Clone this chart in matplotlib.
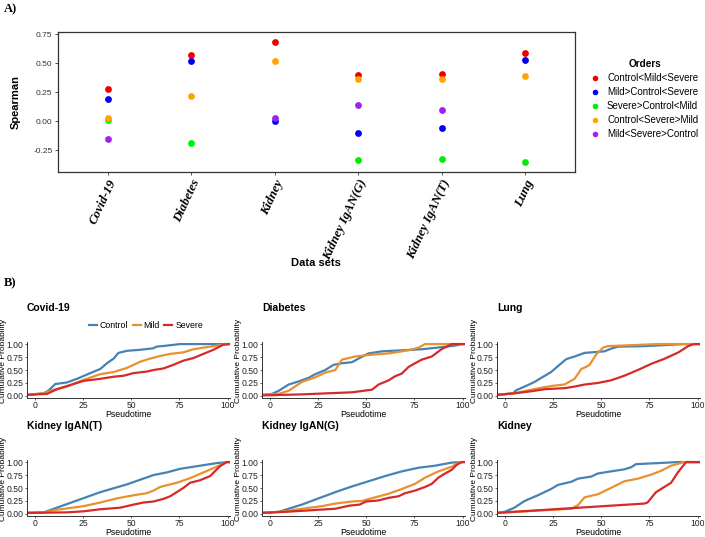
import numpy as np
import matplotlib
matplotlib.use('Agg')
from matplotlib import pyplot as plt
from matplotlib.lines import Line2D

plt.rcParams['font.family'] = ['Liberation Sans', 'DejaVu Sans']

W, H = 705, 537

# ---------------- panel A data ----------------
datasets = ['Covid-19', 'Diabetes', 'Kidney', 'Kidney IgAN(G)', 'Kidney IgAN(T)', 'Lung']
orders = ['Control<Mild<Severe', 'Mild>Control<Severe', 'Severe>Control<Mild',
          'Control<Severe>Mild', 'Mild<Severe>Control']
ctrl_mild_sev = [0.276, 0.569, 0.681, 0.400, 0.410, 0.590]
mild_ctrl_sev = [0.187, 0.517, 0.003, -0.103, -0.063, 0.530]
sev_ctrl_mild = [0.009, -0.187, np.nan, -0.336, -0.325, -0.356]
ctrl_sev_mild = [0.026, 0.216, 0.517, 0.365, 0.360, 0.390]
mild_sev_ctrl = [-0.153, np.nan, 0.026, 0.138, 0.100, np.nan]
order_colors = ['#EE0000', '#0000EE', '#00EE00', '#FFA500', '#A020F0']

# ---------------- panel B data (pseudotime, cumulative prob) ----------------
groups = ['Control', 'Mild', 'Severe']
group_colors = ['#4682B4', '#E8912E', '#D62A2A']

covid_ctrl_t = [-4, 4.7, 7, 10.7, 16.7, 21.9, 28.8, 34, 37.4, 40.9, 43.4, 47.8, 54.7, 61.6, 63, 68.4, 75.3, 101]
covid_ctrl_p = [0.02, 0.05, 0.10, 0.23, 0.26, 0.33, 0.44, 0.52, 0.63, 0.72, 0.83, 0.87, 0.89, 0.92, 0.95, 0.97, 1.0, 1.0]
covid_mild_t = [-4, 4.7, 9.8, 16.7, 25.3, 34, 40.9, 44.3, 47.8, 51.2, 54.7, 59.8, 65, 70.2, 77, 82.2, 89, 94.3, 100, 101]
covid_mild_p = [0.02, 0.05, 0.12, 0.18, 0.31, 0.42, 0.46, 0.50, 0.54, 0.60, 0.66, 0.72, 0.77, 0.81, 0.84, 0.90, 0.94, 0.97, 1.0, 1.0]
covid_sev_t = [-4, 6.4, 11.6, 16.7, 25.3, 34, 40.9, 46.2, 51.2, 58.1, 61.6, 66.7, 71.9, 77, 82.2, 87.4, 92.6, 97.8, 101]
covid_sev_p = [0.02, 0.04, 0.13, 0.19, 0.29, 0.33, 0.37, 0.39, 0.44, 0.47, 0.50, 0.53, 0.60, 0.68, 0.73, 0.81, 0.89, 0.99, 1.0]

diab_ctrl_t = [-4, 1.2, 4.7, 9.8, 15, 20.2, 23.6, 28.8, 33.1, 37.4, 42.6, 46, 51.2, 58.1, 68.4, 78.8, 89, 96, 99.5, 101]
diab_ctrl_p = [0.02, 0.04, 0.10, 0.22, 0.28, 0.35, 0.42, 0.50, 0.60, 0.63, 0.65, 0.72, 0.82, 0.86, 0.88, 0.90, 0.94, 0.97, 1.0, 1.0]
diab_mild_t = [-4, 4.7, 9.8, 16.7, 23.6, 28.8, 34, 37.4, 44.3, 51.2, 61.6, 72, 77, 80.5, 101]
diab_mild_p = [0.02, 0.04, 0.10, 0.27, 0.36, 0.45, 0.50, 0.70, 0.76, 0.79, 0.82, 0.88, 0.93, 1.0, 1.0]
diab_sev_t = [-4, 16.7, 42.6, 53, 56.4, 61.6, 65, 68.4, 72, 75.3, 78.8, 84, 89, 94.3, 101]
diab_sev_p = [0.01, 0.03, 0.07, 0.12, 0.22, 0.30, 0.38, 0.43, 0.56, 0.63, 0.70, 0.76, 0.90, 1.0, 1.0]

lung_ctrl_t = [-4, 4.3, 6, 10.3, 15.5, 19, 24, 28.4, 31.9, 36.2, 41.4, 48.3, 51.7, 55, 58.6, 72.4, 82.8, 93, 101]
lung_ctrl_p = [0.02, 0.05, 0.11, 0.18, 0.27, 0.35, 0.46, 0.60, 0.71, 0.76, 0.83, 0.85, 0.86, 0.91, 0.95, 0.96, 0.98, 1.0, 1.0]
lung_mild_t = [-4, 5, 13.8, 20.7, 25.9, 31, 36.2, 39.7, 42.2, 44, 47.4, 50.9, 53.4, 60, 79.3, 101]
lung_mild_p = [0.02, 0.05, 0.12, 0.17, 0.20, 0.22, 0.33, 0.52, 0.56, 0.60, 0.80, 0.93, 0.96, 0.97, 1.0, 1.0]
lung_sev_t = [-4, 5, 13.8, 20.7, 31, 36.2, 41.4, 48.3, 55, 62, 69, 76, 83, 90, 95, 98, 101]
lung_sev_p = [0.02, 0.05, 0.09, 0.13, 0.15, 0.18, 0.22, 0.25, 0.30, 0.39, 0.50, 0.62, 0.72, 0.84, 0.96, 1.0, 1.0]

igat_ctrl_t = [-4, 4.7, 34, 47.8, 54.7, 61.6, 68.4, 75.3, 85.7, 94.3, 100, 101]
igat_ctrl_p = [0.02, 0.03, 0.42, 0.57, 0.66, 0.75, 0.80, 0.87, 0.93, 0.98, 1.0, 1.0]
igat_mild_t = [-4, 4.7, 11.6, 25.3, 34, 42.6, 51.2, 58.1, 61.6, 65, 70.2, 73.6, 80.5, 87.4, 94.3, 99.5, 101]
igat_mild_p = [0.02, 0.03, 0.08, 0.15, 0.22, 0.30, 0.36, 0.40, 0.45, 0.52, 0.57, 0.60, 0.69, 0.80, 0.91, 1.0, 1.0]
igat_sev_t = [-4, 16.7, 25.3, 34, 44.3, 51.2, 56.4, 61.6, 66.7, 70.2, 73.6, 77, 80.5, 85.7, 90.9, 96, 99.5, 101]
igat_sev_p = [0.02, 0.03, 0.05, 0.09, 0.12, 0.18, 0.22, 0.24, 0.29, 0.34, 0.42, 0.50, 0.60, 0.65, 0.73, 0.92, 1.0, 1.0]

igag_ctrl_t = [-4, 4.7, 16.7, 25.3, 34, 42.6, 51.2, 59.8, 68.4, 77, 85.7, 94.3, 100, 101]
igag_ctrl_p = [0.02, 0.04, 0.18, 0.30, 0.42, 0.53, 0.63, 0.73, 0.82, 0.89, 0.93, 0.99, 1.0, 1.0]
igag_mild_t = [-4, 8, 16.7, 27, 34, 42.6, 47.8, 54.7, 61.6, 68.4, 75.3, 80.5, 87.4, 94.3, 98.6, 101]
igag_mild_p = [0.02, 0.05, 0.10, 0.15, 0.20, 0.24, 0.25, 0.32, 0.39, 0.48, 0.58, 0.70, 0.82, 0.91, 1.0, 1.0]
igag_sev_t = [-4, 8, 25.3, 34, 41.4, 46.6, 50, 56.4, 61.6, 66.7, 70.2, 75.3, 80.5, 84, 87.4, 90.9, 94.3, 97, 99.5, 101]
igag_sev_p = [0.02, 0.04, 0.08, 0.10, 0.16, 0.18, 0.24, 0.26, 0.31, 0.34, 0.40, 0.45, 0.52, 0.58, 0.70, 0.78, 0.85, 0.95, 1.0, 1.0]

kid_ctrl_t = [-4, 0, 5, 10.3, 17.2, 24, 27.6, 34.5, 38, 44.8, 48.3, 55, 62, 65.5, 68, 79.3, 89.7, 101]
kid_ctrl_p = [0.02, 0.04, 0.12, 0.25, 0.36, 0.48, 0.56, 0.62, 0.68, 0.72, 0.78, 0.82, 0.86, 0.90, 0.96, 0.98, 1.0, 1.0]
kid_mild_t = [-4, 34.5, 38, 41.4, 48.3, 55, 62, 69, 76, 81, 86.2, 93, 101]
kid_mild_p = [0.02, 0.10, 0.17, 0.32, 0.38, 0.50, 0.63, 0.68, 0.76, 0.83, 0.93, 1.0, 1.0]
kid_sev_t = [-4, 72.4, 74, 78.4, 86.2, 89.7, 94, 101]
kid_sev_p = [0.02, 0.20, 0.22, 0.42, 0.60, 0.80, 1.0, 1.0]

panels = [
    ('Covid-19', [(covid_ctrl_t, covid_ctrl_p), (covid_mild_t, covid_mild_p), (covid_sev_t, covid_sev_p)]),
    ('Diabetes', [(diab_ctrl_t, diab_ctrl_p), (diab_mild_t, diab_mild_p), (diab_sev_t, diab_sev_p)]),
    ('Lung', [(lung_ctrl_t, lung_ctrl_p), (lung_mild_t, lung_mild_p), (lung_sev_t, lung_sev_p)]),
    ('Kidney IgAN(T)', [(igat_ctrl_t, igat_ctrl_p), (igat_mild_t, igat_mild_p), (igat_sev_t, igat_sev_p)]),
    ('Kidney IgAN(G)', [(igag_ctrl_t, igag_ctrl_p), (igag_mild_t, igag_mild_p), (igag_sev_t, igag_sev_p)]),
    ('Kidney', [(kid_ctrl_t, kid_ctrl_p), (kid_mild_t, kid_mild_p), (kid_sev_t, kid_sev_p)]),
]


def box(l, t, r, b):
    return [l / W, 1 - b / H, (r - l) / W, (b - t) / H]


fig = plt.figure(figsize=(W / 100, H / 100), dpi=100)

# ---------------- panel A ----------------
ax = fig.add_axes(box(58, 32, 575, 172))
xpos = np.arange(1, len(datasets) + 1)
for vals, c in zip([ctrl_mild_sev, mild_ctrl_sev, sev_ctrl_mild, ctrl_sev_mild, mild_sev_ctrl], order_colors):
    ax.scatter(xpos, vals, s=24, color=c, linewidths=0, zorder=3)
ax.set_xlim(0.4, 6.6)
ax.set_ylim(-0.44, 0.77)
ax.set_yticks([-0.25, 0, 0.25, 0.5, 0.75])
ax.set_yticklabels(['-0.25', '0.00', '0.25', '0.50', '0.75'], fontsize=6, color='#333333')
ax.set_xticks(xpos)
ax.set_xticklabels(datasets, rotation=65, ha='right', va='top', rotation_mode='anchor',
                   family='Liberation Serif', style='italic', weight='bold', fontsize=9.3)
ax.tick_params(length=2, width=0.6, color='#333333', pad=2)
for sp in ax.spines.values():
    sp.set_color('#333333')
    sp.set_linewidth(0.9)

handles = [Line2D([], [], marker='o', ls='none', ms=4, color=c, mec='none') for c in order_colors]
ax.legend(handles, orders, title='Orders', loc='upper left', bbox_to_anchor=(591 / W, 1 - 59 / H),
          bbox_transform=fig.transFigure, frameon=False, fontsize=7,
          title_fontproperties={'weight': 'bold', 'size': 7.2}, handletextpad=0.75,
          labelspacing=0.42, handlelength=0.9, borderaxespad=0, borderpad=0)

fig.text(16 / W, 1 - 102 / H, 'Spearman', rotation=90, weight='bold', fontsize=8, ha='center', va='center')
fig.text(316 / W, 1 - 263 / H, 'Data sets', weight='bold', fontsize=8, ha='center', va='center')
fig.text(4 / W, 1 - 9 / H, 'A)', family='Liberation Serif', weight='bold', fontsize=9, va='center')
fig.text(4 / W, 1 - 283 / H, 'B)', family='Liberation Serif', weight='bold', fontsize=9, va='center')

# ---------------- panel B ----------------
lefts = [27, 262, 497]
tops = [342, 460]
for i, (name, series) in enumerate(panels):
    l = lefts[i % 3]
    t = tops[i // 3]
    bx = fig.add_axes(box(l, t, l + 203, t + 56))
    for (tt, pp), c, g in zip(series, group_colors, groups):
        bx.plot(tt, pp, color=c, lw=1.6, label=g)
    bx.set_xlim(-4, 101.2)
    bx.set_ylim(-0.04, 1.04)
    bx.set_xticks([0, 25, 50, 75, 100])
    bx.set_yticks([0, 0.25, 0.5, 0.75, 1.0])
    bx.set_yticklabels(['0.00', '0.25', '0.50', '0.75', '1.00'])
    bx.tick_params(labelsize=6.2, length=1.5, width=0.5, pad=1, colors='#222222')
    for s in ['top', 'right']:
        bx.spines[s].set_visible(False)
    for s in ['left', 'bottom']:
        bx.spines[s].set_color('#333333')
        bx.spines[s].set_linewidth(0.7)
    bx.set_xlabel('Pseudotime', fontsize=6.3, labelpad=0)
    fig.text((l - 23) / W, 1 - (t + 19) / H, 'Cumulative Probability', rotation=90,
             fontsize=6, ha='center', va='center')
    fig.text(l / W, 1 - (t - 34) / H, name, weight='bold', fontsize=7.5, va='center')
    if i == 0:
        bx.legend(loc='center', bbox_to_anchor=(146 / W, 1 - 326 / H), bbox_transform=fig.transFigure,
                  ncol=3, frameon=False, fontsize=6.3, handlelength=0.9, handletextpad=0.35,
                  columnspacing=0.5, borderpad=0)

fig.savefig('out.png', dpi=100)
